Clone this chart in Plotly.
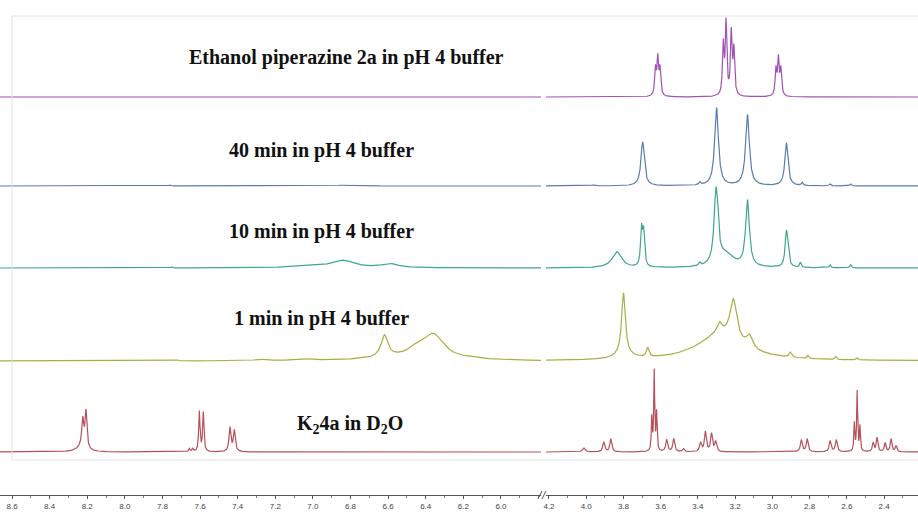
import numpy as np
import plotly.graph_objects as go

# ---------------- data: peak tables (ppm, height, half-width) -------------
labels = ["Ethanol piperazine 2a in pH 4 buffer", "40 min in pH 4 buffer",
          "10 min in pH 4 buffer", "1 min in pH 4 buffer", "K<sub>2</sub>4a in D<sub>2</sub>O"]

purple_left = []
purple_right = [(3.628, 26, 0.005), (3.616, 36, 0.005), (3.604, 26, 0.005),
                (3.264, 50, 0.005), (3.249, 72, 0.005), (3.221, 62, 0.005), (3.207, 45, 0.005),
                (2.981, 26, 0.005), (2.968, 36, 0.005), (2.955, 26, 0.005)]

blue_left = [(7.76, 1.0, 0.005), (6.85, 0.8, 0.05)]
blue_right = [(3.96, 1.0, 0.01), (3.697, 44, 0.011), (3.39, 3, 0.006), (3.300, 78, 0.012),
              (3.134, 71, 0.012), (2.925, 43, 0.010), (2.84, 3, 0.005), (2.69, 2, 0.005),
              (2.58, 2, 0.005)]

green_left = [(7.75, 1.0, 0.005), (6.84, 7, 0.07), (6.59, 4, 0.05), (7.0, 1.5, 0.15)]
green_right = [(3.836, 16, 0.03), (3.703, 36, 0.006), (3.692, 33, 0.006), (3.39, 3, 0.006),
               (3.303, 72, 0.012), (3.293, 14, 0.005), (3.25, 13, 0.05), (3.134, 66, 0.012),
               (2.925, 34, 0.008), (2.916, 10, 0.006), (2.85, 5, 0.005), (2.69, 3, 0.005),
               (2.58, 3, 0.005)]

olive_left = [(7.72, 1.0, 0.005), (7.28, 1.5, 0.03), (7.05, 1.5, 0.05), (6.62, 22, 0.022),
              (6.45, 6, 0.05), (6.36, 24, 0.07), (6.5, 3, 0.2), (6.15, 1.5, 0.05)]
olive_right = [(3.80, 62, 0.012), (3.80, 4, 0.06), (3.67, 9, 0.008), (3.28, 26, 0.15),
               (3.284, 10, 0.015), (3.21, 40, 0.022), (3.123, 12, 0.02), (2.904, 5, 0.008),
               (2.81, 3, 0.005), (2.66, 3, 0.005), (2.545, 2, 0.005)]

red_left = [(8.23, 5, 0.03), (8.224, 27, 0.006), (8.207, 37, 0.006),
            (7.657, 3, 0.004), (7.640, 3, 0.004), (7.604, 40, 0.004), (7.583, 39, 0.004),
            (7.441, 24, 0.006), (7.418, 21, 0.006)]
red_right = [(4.013, 4, 0.008), (3.906, 10, 0.006), (3.868, 13, 0.006),
             (3.648, 33, 0.003), (3.635, 80, 0.003), (3.622, 38, 0.003),
             (3.568, 12, 0.006), (3.530, 13, 0.006), (3.477, 3, 0.006),
             (3.386, 9, 0.006), (3.360, 20, 0.006), (3.327, 18, 0.006), (3.305, 10, 0.006),
             (2.845, 12, 0.006), (2.813, 13, 0.006), (2.690, 11, 0.006), (2.657, 12, 0.006),
             (2.560, 28, 0.003), (2.545, 60, 0.003), (2.530, 25, 0.003),
             (2.459, 9, 0.005), (2.438, 14, 0.005), (2.395, 9, 0.005), (2.363, 13, 0.005),
             (2.336, 6, 0.005)]

left_ticks = [8.6, 8.4, 8.2, 8.0, 7.8, 7.6, 7.4, 7.2, 7.0, 6.8, 6.6, 6.4, 6.2, 6.0]
right_ticks = [4.2, 4.0, 3.8, 3.6, 3.4, 3.2, 3.0, 2.8, 2.6, 2.4]

# ---------------- styles / layout constants -------------
W, H = 918, 516
colors = ["#a052b6", "#5a7cad", "#3fa97f", "#a8ae44", "#b5505a"]
offsets = [419, 330, 248, 155, 64]          # baseline of each stacked trace (y units = px from bottom)
left_range = (8.664, 5.787)
right_range = (4.216, 2.218)
left_dom = (0, 541 / W)
right_dom = (546 / W, 1)

xl = np.arange(left_range[1], left_range[0] + 1e-9, 0.001)[::-1]
xr = np.arange(right_range[1], right_range[0] + 1e-9, 0.0004)[::-1]


def spectrum(x, peaks):
    y = np.zeros_like(x)
    for c, h, w in peaks:
        y += h / (1 + ((x - c) / w) ** 2)
    return y


sets = [(purple_left, purple_right), (blue_left, blue_right), (green_left, green_right),
        (olive_left, olive_right), (red_left, red_right)]

fig = go.Figure()
for (pl, pr), col, off in zip(sets, colors, offsets):
    fig.add_trace(go.Scatter(x=xl, y=spectrum(xl, pl) + off, mode="lines",
                             line=dict(color=col, width=1.2), xaxis="x", yaxis="y",
                             showlegend=False, hoverinfo="skip"))
    fig.add_trace(go.Scatter(x=xr, y=spectrum(xr, pr) + off, mode="lines",
                             line=dict(color=col, width=1.2), xaxis="x2", yaxis="y",
                             showlegend=False, hoverinfo="skip"))

axis_common = dict(anchor="free", position=21 / H, showgrid=False, zeroline=False,
                   showline=True, linecolor="#555", linewidth=1, ticks="outside", ticklen=3,
                   tickcolor="#555", tickfont=dict(family="Liberation Sans", size=8, color="#444"),
                   minor=dict(ticks="outside", ticklen=2, dtick=0.1, tickcolor="#777"),
                   tickformat=".1f", automargin=False)

fig.update_layout(
    width=W, height=H, margin=dict(l=0, r=0, t=0, b=0, autoexpand=False),
    paper_bgcolor="white", plot_bgcolor="white",
    xaxis=dict(domain=list(left_dom), range=list(left_range), tickmode="array",
               tickvals=left_ticks, **axis_common),
    xaxis2=dict(domain=list(right_dom), range=list(right_range), tickmode="array",
                tickvals=right_ticks, **axis_common),
    yaxis=dict(range=[0, H], domain=[0, 1], visible=False),
)

# faint frame lines
frame = "#e2e2e2"
fig.add_shape(type="line", xref="paper", yref="paper", x0=12 / W, x1=1, y0=1 - 16 / H, y1=1 - 16 / H,
              line=dict(color=frame, width=1))
fig.add_shape(type="line", xref="paper", yref="paper", x0=12 / W, x1=1, y0=1 - 460 / H, y1=1 - 460 / H,
              line=dict(color=frame, width=1))
fig.add_shape(type="line", xref="paper", yref="paper", x0=12 / W, x1=12 / W, y0=1 - 16 / H, y1=1 - 460 / H,
              line=dict(color=frame, width=1))

# axis break marks
for dx in (0, 4):
    fig.add_shape(type="line", xref="paper", yref="paper",
                  x0=(538 + dx) / W, x1=(542 + dx) / W, y0=1 - 499 / H, y1=1 - 491 / H,
                  line=dict(color="#555", width=1))

label_pos = [(346, 58), (321, 150), (321, 231), (321, 318), (350, 424)]
for txt, (px, py) in zip(labels, label_pos):
    fig.add_annotation(x=px / W, y=1 - py / H, xref="paper", yref="paper", text="<b>" + txt + "</b>",
                       showarrow=False, xanchor="center", yanchor="middle",
                       font=dict(family="Liberation Serif", size=20, color="#111"))

fig.write_html("out.html", config={"displayModeBar": False},
               post_script="document.body.style.margin='0';document.body.style.overflow='hidden';")
